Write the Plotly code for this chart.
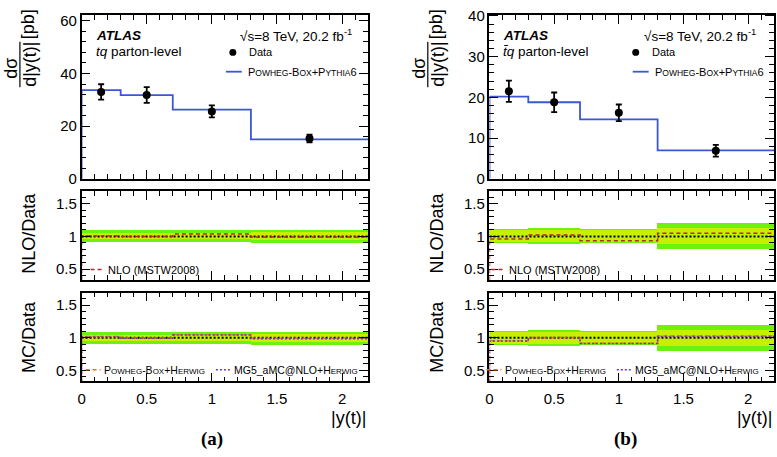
import plotly.graph_objects as go

# ---------------- data ----------------
bins = [0.0, 0.3, 0.7, 1.3, 2.2]

tq_data = [33.0, 31.8, 25.6, 15.3]
tq_err = [2.9, 3.0, 2.3, 1.5]
tq_powheg_pythia = [33.7, 31.8, 26.3, 15.0]

tbq_data = [21.5, 18.8, 16.2, 6.9]
tbq_err = [2.6, 2.4, 2.05, 1.45]
tbq_powheg_pythia = [20.2, 18.8, 14.6, 7.0]

tq_band_total = [0.09, 0.085, 0.09, 0.10]
tq_band_inner = [0.05, 0.045, 0.05, 0.06]
tbq_band_total = [0.11, 0.125, 0.11, 0.20]
tbq_band_inner = [0.085, 0.095, 0.085, 0.12]

tq_nlo_ratio = [1.005, 1.0, 1.035, 0.99]
tbq_nlo_ratio = [0.96, 1.02, 0.935, 1.05]

tq_powheg_herwig_ratio = [1.02, 0.995, 1.045, 0.99]
tq_mg5_herwig_ratio = [1.01, 0.99, 1.04, 0.985]
tbq_powheg_herwig_ratio = [0.955, 1.005, 0.915, 1.025]
tbq_mg5_herwig_ratio = [0.95, 1.0, 0.91, 1.02]

x_ticks = [0, 0.5, 1, 1.5, 2]

# ---------------- styling ----------------
W, H = 777, 457
FONT = "Liberation Sans"
GREEN = "#6cf20e"
YELLOW = "#c8ee00"
BLUE = "#3a57d6"
NLO_RED = "#b22a2a"
ORANGE = "#f0672a"
PURPLE = "#6a32d0"
DASH = "4px,3px"
DOT = "2px,2px"


def px(x):
    return x / W


def py(y):
    return 1 - y / H


centers = [(bins[i] + bins[i + 1]) / 2 for i in range(len(bins) - 1)]
widths = [bins[i + 1] - bins[i] for i in range(len(bins) - 1)]

fig = go.Figure()


def step(vals, ymin, xa, ya, color, dash, width=1.5):
    fig.add_trace(go.Scatter(
        x=[bins[0]] + bins, y=[ymin] + vals + [vals[-1]],
        mode="lines", line=dict(color=color, dash=dash, width=width, shape="hv"),
        xaxis=xa, yaxis=ya, showlegend=False, hoverinfo="skip"))


def bands(total, inner, xa, ya):
    fig.add_trace(go.Bar(x=centers, width=widths, base=[1 - e for e in total],
                         y=[2 * e for e in total], marker=dict(color=GREEN, line=dict(width=0)),
                         xaxis=xa, yaxis=ya, showlegend=False, hoverinfo="skip"))
    fig.add_trace(go.Bar(x=centers, width=widths, base=[1 - e for e in inner],
                         y=[2 * e for e in inner], marker=dict(color=YELLOW, line=dict(width=0)),
                         xaxis=xa, yaxis=ya, showlegend=False, hoverinfo="skip"))
    fig.add_trace(go.Scatter(x=[bins[0], bins[-1]], y=[1, 1], mode="lines",
                             line=dict(color="black", dash=DOT, width=2),
                             xaxis=xa, yaxis=ya, showlegend=False, hoverinfo="skip"))


RMIN = 0.33

# left (tq) panels: x,y / x2,y2 / x3,y3 ; right (tbar q): x4..x6
for (data, err, pw, tot, inn, nlo, ph, mg, off) in [
    (tq_data, tq_err, tq_powheg_pythia, tq_band_total, tq_band_inner, tq_nlo_ratio,
     tq_powheg_herwig_ratio, tq_mg5_herwig_ratio, 0),
    (tbq_data, tbq_err, tbq_powheg_pythia, tbq_band_total, tbq_band_inner, tbq_nlo_ratio,
     tbq_powheg_herwig_ratio, tbq_mg5_herwig_ratio, 3),
]:
    a1 = "" if off == 0 else str(1 + off)
    a2 = str(2 + off)
    a3 = str(3 + off)
    step(pw, 0, "x" + a1, "y" + a1, BLUE, "solid", 1.8)
    fig.add_trace(go.Scatter(
        x=centers, y=data, mode="markers",
        marker=dict(color="black", size=8),
        error_y=dict(type="data", array=err, color="black", thickness=1.8, width=3),
        xaxis="x" + a1, yaxis="y" + a1, showlegend=False, hoverinfo="skip"))
    bands(tot, inn, "x" + a2, "y" + a2)
    step(nlo, RMIN, "x" + a2, "y" + a2, NLO_RED, DASH)
    bands(tot, inn, "x" + a3, "y" + a3)
    step(ph, RMIN, "x" + a3, "y" + a3, ORANGE, DASH)
    step(mg, RMIN, "x" + a3, "y" + a3, PURPLE, DOT)

# ---------------- axes ----------------
XL = (78, 366)
XR = (488, 774)
TOP = (7, 177)
R1 = (190, 282)
R2 = (295, 387)


def axis_common():
    return dict(showline=True, linecolor="black", linewidth=1.5, mirror="allticks",
                ticks="inside", ticklen=9, tickwidth=1.2, tickcolor="black",
                showgrid=False, zeroline=False,
                tickfont=dict(family=FONT, size=15, color="black"))


layout_axes = {}
panels = [
    ("", XL, TOP, [0, 62.3], 20, 4, False),
    ("2", XL, R1, [RMIN, 1.69], 0.5, 0.1, False),
    ("3", XL, R2, [RMIN, 1.69], 0.5, 0.1, True),
    ("4", XR, TOP, [0, 40.3], 10, 2, False),
    ("5", XR, R1, [RMIN, 1.69], 0.5, 0.1, False),
    ("6", XR, R2, [RMIN, 1.69], 0.5, 0.1, True),
]
for name, xd, yd, yr, ydt, ymin_dt, xlabels in panels:
    xa = axis_common()
    xa.update(domain=[px(xd[0]), px(xd[1])], range=[bins[0], bins[-1]],
              anchor="y" + name, tickmode="array", tickvals=x_ticks,
              ticktext=[f"{v:g}" for v in x_ticks],
              showticklabels=xlabels, ticklabelstandoff=3,
              minor=dict(ticks="inside", ticklen=5, dtick=0.1, tick0=0,
                         tickcolor="black", tickwidth=1, showgrid=False))
    ya = axis_common()
    ya.update(domain=[py(yd[1]), py(yd[0])], range=yr, anchor="x" + name,
              dtick=ydt, tick0=0,
              minor=dict(ticks="inside", ticklen=5, dtick=ymin_dt, tick0=0,
                         tickcolor="black", tickwidth=1, showgrid=False))
    if name in ("2", "3", "5", "6"):
        ya.update(tickmode="array", tickvals=[0.5, 1, 1.5], ticktext=["0.5", "1", "1.5"])
    layout_axes["xaxis" + name] = xa
    layout_axes["yaxis" + name] = ya

fig.update_layout(**layout_axes)

# ---------------- annotations & legend samples ----------------
ann = []
shapes = []


def text(x, y, t, size, xanchor="left", angle=0, family=FONT):
    ann.append(dict(x=px(x), y=py(y), xref="paper", yref="paper", text=t,
                    showarrow=False, xanchor=xanchor, yanchor="middle",
                    textangle=angle, font=dict(family=family, size=size, color="black")))


def hline(x0, x1, y, color, dash="solid", width=1.5):
    shapes.append(dict(type="line", xref="paper", yref="paper", x0=px(x0), x1=px(x1),
                       y0=py(y), y1=py(y), line=dict(color=color, dash=dash, width=width)))


def sc(big, small, s=8.5):
    return f"{big}<span style='font-size:{s}px'>{small}</span>"


powheg_pythia = sc("P", "OWHEG") + "-" + sc("B", "OX") + "+" + sc("P", "YTHIA") + "6"
powheg_herwig = sc("P", "OWHEG", 8) + "-" + sc("B", "OX", 8) + "+" + sc("H", "ERWIG", 8)
mg5_herwig = "MG5_aMC@NLO+" + sc("H", "ERWIG", 8)

for off, proc, xlabel_right, tag, dataX, legX in [
    (0, "<i>tq</i> parton-level", 366, "(a)", 230, 223),
    (410, "<i>t̄q</i> parton-level", 774, "(b)", 635, 632),
]:
    # y-axis title: fraction
    text(7 + off, 62, "dσ", 18, "center", -90)
    text(26 + off, 58, "d|y(t)|", 18, "center", -90)
    text(25 + off, 17, "[pb]", 18, "center", -90)
    shapes.append(dict(type="line", xref="paper", yref="paper", x0=px(16 + off), x1=px(16 + off),
                       y0=py(35), y1=py(82), line=dict(color="black", width=1.2)))
    text(25 + off, 233, "NLO/Data", 18, "center", -90)
    text(25 + off, 341, "MC/Data", 18, "center", -90)

    # top panel texts
    text(90 + off, 28, "<b><i>ATLAS</i></b>", 13.5)
    text(90 + off, 45, proc, 13.5)
    text(235 + off - (4 if off else 0), 28, "√s=8 TeV, 20.2 fb<sup>-1</sup>", 13.5)
    text(dataX + 14, 46, "Data", 11)
    hline(legX, legX + 16, 66, BLUE, "solid", 1.8)
    text(legX + 20, 66, powheg_pythia, 11)

    # ratio legends
    lx = 87 if off == 0 else 490 - 410
    hline(lx + off, lx + off + 14, 271, NLO_RED, DASH)
    text(lx + off + 16, 271, "NLO (MSTW2008)", 11)
    hline(lx + off - 5, lx + off + 10, 375, ORANGE, DASH)
    text(lx + off + 12, 375, powheg_herwig, 10.5)
    hline(lx + off + 126, lx + off + 140, 375, PURPLE, DOT)
    text(lx + off + 142, 375, mg5_herwig, 10.5)

    # x-axis title and panel label
    text(xlabel_right, 425, "|y(t)|", 18, "right")
    text(209 + off + (6 if off else 0), 447, "<b>" + tag + "</b>", 19, "center",
         family="Liberation Serif")

# data legend marker
for mx in (230, 635):
    shapes.append(dict(type="circle", xref="paper", yref="paper",
                       x0=px(mx - 3.5), x1=px(mx + 3.5), y0=py(46 + 3.5), y1=py(46 - 3.5),
                       fillcolor="black", line=dict(color="black", width=0)))

fig.update_layout(
    width=W, height=H, autosize=False,
    margin=dict(l=0, r=0, t=0, b=0),
    paper_bgcolor="white", plot_bgcolor="white",
    barmode="overlay", bargap=0,
    showlegend=False,
    annotations=ann, shapes=shapes,
    font=dict(family=FONT, color="black"),
)

fig.write_html(
    "out.html",
    config={"displayModeBar": False},
    post_script="document.body.style.margin='0px';document.body.style.overflow='hidden';",
)
